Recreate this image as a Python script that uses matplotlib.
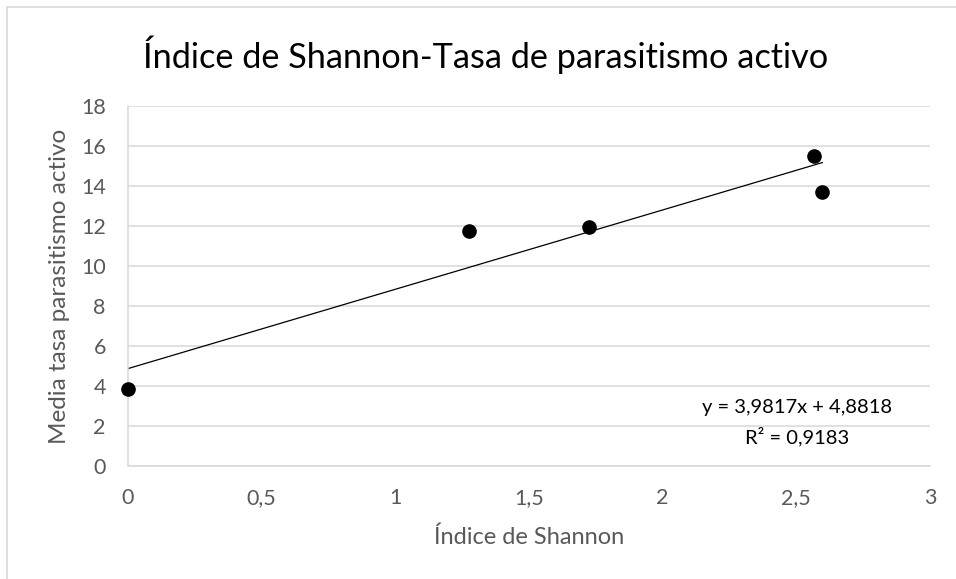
import numpy as np
import matplotlib
matplotlib.use('Agg')
import matplotlib.pyplot as plt
from matplotlib.patches import Rectangle

plt.rcParams['font.family'] = ['Lato', 'DejaVu Sans']

# data
shannon = [0.0, 1.276, 1.725, 2.566, 2.597]
parasitismo = [3.87, 11.73, 11.95, 15.49, 13.69]
x_ticks = [0, 0.5, 1, 1.5, 2, 2.5, 3]
x_labels = ['0', '0,5', '1', '1,5', '2', '2,5', '3']
y_ticks = [0, 2, 4, 6, 8, 10, 12, 14, 16, 18]
eq_text = 'y = 3,9817x + 4,8818'
r2_text = 'R² = 0,9183'

grey = '#595959'
grid = '#d9d9d9'

fig = plt.figure(figsize=(9.56, 5.79), dpi=100)
ax = fig.add_axes([128/956, 1 - 466/579, (930-128)/956, (466-106)/579])

# outer chart frame (only top and left edges visible)
fig.patches.append(Rectangle((7/956, -0.1), 1.2, 1.1 - 7/579,
                             transform=fig.transFigure, fill=False,
                             edgecolor=grid, lw=1.2, zorder=0))

ax.set_xlim(0, 3)
ax.set_ylim(0, 18)
ax.set_xticks(x_ticks)
ax.set_xticklabels(x_labels)
ax.set_yticks(y_ticks)
ax.grid(axis='y', color=grid, lw=1.1)
ax.set_axisbelow(True)
for side in ['top', 'right']:
    ax.spines[side].set_visible(False)
for side in ['left', 'bottom']:
    ax.spines[side].set_color(grid)
    ax.spines[side].set_linewidth(1.1)
ax.tick_params(length=0, labelsize=15.5, labelcolor=grey)
ax.tick_params(axis='x', pad=16)
ax.tick_params(axis='y', pad=16)

# linear trendline, as in the spreadsheet
slope, intercept = np.polyfit(shannon, parasitismo, 1)
xl = np.array([0, max(shannon)])
ax.plot(xl, slope * xl + intercept, color='black', lw=0.9, zorder=2)

ax.plot(shannon, parasitismo, 'o', color='black', ms=9.5, clip_on=False, zorder=3)

ax.text(2.503, 2.93, eq_text, ha='center', va='center', fontsize=14.5, color='black')
ax.text(2.503, 1.49, r2_text, ha='center', va='center', fontsize=14.5, color='black')

ax.set_xlabel('Índice de Shannon', fontsize=17, color=grey, va='center')
ax.xaxis.set_label_coords(0.5, -0.197)
ax.set_ylabel('Media tasa parasitismo activo', fontsize=17.5, color=grey, va='center')
ax.yaxis.set_label_coords(-0.085, 0.5)

fig.text(486/956, 1 - 55/579, 'Índice de Shannon-Tasa de parasitismo activo',
         ha='center', va='center', fontsize=24.7, color='black')

fig.savefig('out.png', dpi=100)
